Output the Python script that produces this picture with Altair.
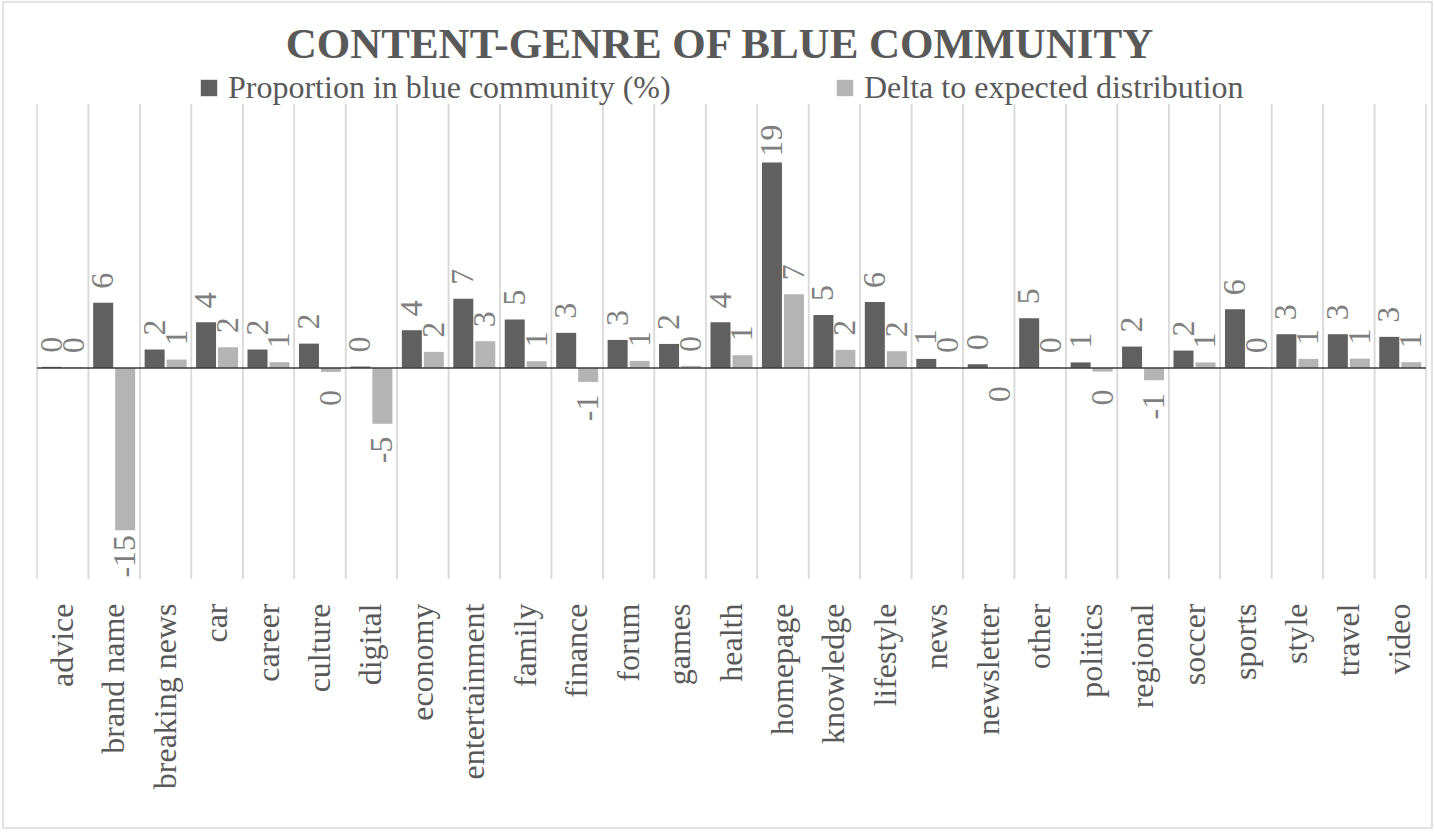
import math
import altair as alt
import pandas as pd

categories = ["advice", "brand name", "breaking news", "car", "career", "culture",
              "digital", "economy", "entertainment", "family", "finance", "forum",
              "games", "health", "homepage", "knowledge", "lifestyle", "news",
              "newsletter", "other", "politics", "regional", "soccer", "sports",
              "style", "travel", "video"]

proportion = [0.1, 6.16, 1.74, 4.33, 1.74, 2.30, 0.13, 3.57, 6.55, 4.58, 3.32, 2.65,
              2.27, 4.33, 19.45, 5.0, 6.25, 0.85, 0.35, 4.70, 0.52, 2.02, 1.64, 5.55,
              3.19, 3.19, 2.94]

delta = [0.05, -15.38, 0.79, 1.96, 0.54, -0.38, -5.3, 1.52, 2.53, 0.63, -1.33, 0.66,
         0.19, 1.2, 6.98, 1.71, 1.58, 0.08, -0.03, 0.05, -0.35, -1.17, 0.52, 0.05,
         0.85, 0.88, 0.54]

series_names = ["Proportion in blue community (%)", "Delta to expected distribution"]
series_colors = ["#606060", "#b4b4b4"]

title_text = "CONTENT-GENRE OF BLUE COMMUNITY"
SERIF = "Liberation Serif"


def fmt(v):
    n = math.floor(abs(v) + 0.5)
    return ("-" if v < 0 and n > 0 else "") + str(n)


rows = []
for c, p, d in zip(categories, proportion, delta):
    rows.append({"cat": c, "series": series_names[0], "value": p, "label": fmt(p)})
    rows.append({"cat": c, "series": series_names[1], "value": d, "label": fmt(d)})
df = pd.DataFrame(rows)
cat_df = pd.DataFrame({"cat": categories})
zero_df = pd.DataFrame({"zero": [0]})
frame_df = pd.DataFrame({"k": [0]})

x_scale = alt.Scale(domain=categories, paddingInner=0, paddingOuter=0)
off_scale = alt.Scale(domain=series_names, paddingInner=0.09, paddingOuter=0.215)
y_scale = alt.Scale(domain=[-20, 25], nice=False, zero=False)

x_axis = alt.Axis(title=None, labelAngle=-90, labelFont=SERIF, labelFontSize=32,
                  labelColor="#595959", labelPadding=24, ticks=False, domain=False,
                  grid=False, labelLimit=400, labelOverlap=False)

frame = alt.Chart(frame_df).mark_rect(fillOpacity=0, stroke="#d9d9d9", strokeWidth=1.5).encode(
    x=alt.value(-34), x2=alt.value(1395), y=alt.value(-102), y2=alt.value(724))

grid0 = alt.Chart(cat_df).mark_rule(color="#d9d9d9", strokeWidth=1.5).encode(
    x=alt.X("cat:N", scale=x_scale, axis=x_axis, bandPosition=0))
grid1 = alt.Chart(cat_df).mark_rule(color="#d9d9d9", strokeWidth=1.5).encode(
    x=alt.X("cat:N", scale=x_scale, axis=x_axis, bandPosition=1))

bars = alt.Chart(df).mark_bar().encode(
    x=alt.X("cat:N", scale=x_scale, axis=x_axis),
    xOffset=alt.XOffset("series:N", scale=off_scale),
    y=alt.Y("value:Q", scale=y_scale, axis=None),
    color=alt.Color("series:N", scale=alt.Scale(domain=series_names, range=series_colors),
                    legend=alt.Legend(title=None, orient="none", legendX=156, legendY=-32,
                                      direction="horizontal", symbolType="square",
                                      symbolSize=270, symbolStrokeWidth=0,
                                      labelFont=SERIF, labelFontSize=32,
                                      labelColor="#595959", labelOffset=3,
                                      columnPadding=158, padding=0, labelLimit=800)),
)

zero_line = alt.Chart(zero_df).mark_rule(color="#3a3a3a", strokeWidth=1.5).encode(
    y=alt.Y("zero:Q", scale=y_scale, axis=None))

txt_pos = alt.Chart(df).transform_filter("datum.value >= 0").mark_text(
    angle=270, align="center", baseline="middle", dx=22, font=SERIF, fontSize=32,
    color="#7f7f7f").encode(
    x=alt.X("cat:N", scale=x_scale, axis=x_axis),
    xOffset=alt.XOffset("series:N", scale=off_scale),
    y=alt.Y("value:Q", scale=y_scale, axis=None),
    text="label:N")

txt_neg = alt.Chart(df).transform_filter("datum.value < 0").mark_text(
    angle=270, align="center", baseline="middle", dx=-26, font=SERIF, fontSize=32,
    color="#7f7f7f").encode(
    x=alt.X("cat:N", scale=x_scale, axis=x_axis),
    xOffset=alt.XOffset("series:N", scale=off_scale),
    y=alt.Y("value:Q", scale=y_scale, axis=None),
    text="label:N")

chart = alt.layer(frame, grid0, grid1, bars, zero_line, txt_pos, txt_neg).properties(
    width=1389, height=475,
    title=alt.TitleParams(text=title_text, font=SERIF, fontSize=43, fontWeight="bold",
                          color="#595959", anchor="middle", offset=-66, dx=-12),
    padding={"left": 37, "top": 104, "right": 9, "bottom": 253},
    autosize=alt.AutoSizeParams(type="none"),
    background="white",
).configure_view(stroke=None)

chart.save("out.html", embed_options={"renderer": "svg", "actions": False})
